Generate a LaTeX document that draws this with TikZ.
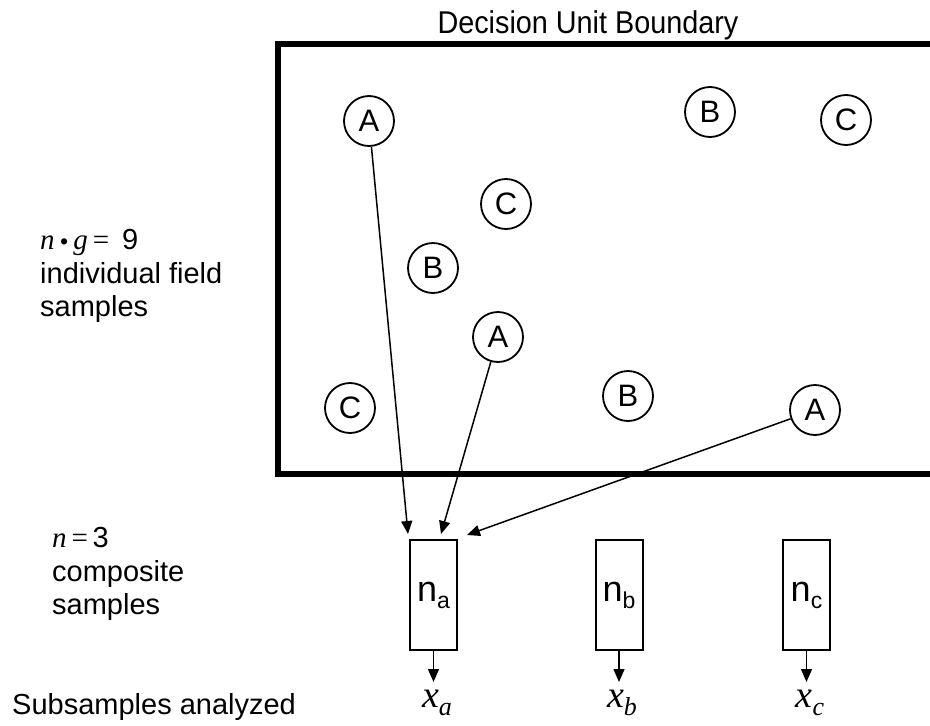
\documentclass[tikz,border=0pt]{standalone}
\usepackage{fontspec}
\setmainfont{Liberation Sans}
\newfontfamily\tms{Liberation Serif}
\usetikzlibrary{arrows.meta}
\begin{document}
\begin{tikzpicture}[x=1pt,y=-1pt,
  smp/.style={circle,draw,line width=1.8pt,minimum size=50pt,inner sep=0pt,font=\fontsize{31}{31}\selectfont},
  comp/.style={rectangle,draw,line width=2pt,minimum width=47pt,minimum height=110pt,inner sep=0pt,font=\fontsize{36}{36}\selectfont},
  lbl/.style={anchor=west,align=left,font=\fontsize{29}{33.5}\selectfont,inner sep=0pt},
  arr/.style={line width=1.5pt,-{Triangle[length=13pt,width=11pt]}},
  xl/.style={font=\fontsize{38}{38}\selectfont\tms\itshape,inner sep=0pt}]
\useasboundingbox (0,0) rectangle (930,726);
\draw[line width=6pt] (940,44) -- (278,44) -- (278,474) -- (940,474);
\node[font=\fontsize{30}{30}\selectfont,inner sep=0pt] (title) at (588,25) {\scalebox{0.96}[1.05]{Decision Unit Boundary}};
% samples
\node[smp] (A1) at (369,121) {A};
\node[smp] (B1) at (710,112) {B};
\node[smp] (C1) at (846,120) {C};
\node[smp] (C2) at (506,204) {C};
\node[smp] (B2) at (433,268) {B};
\node[smp] (A2) at (498,337) {A};
\node[smp] (C3) at (350,408) {C};
\node[smp] (B3) at (628,396) {B};
\node[smp] (A3) at (815,410) {A};
% composites
\node[comp] (na) at (433.5,595) {n\raisebox{-7pt}{\fontsize{23}{23}\selectfont a}};
\node[comp] (nb) at (619,595) {n\raisebox{-7pt}{\fontsize{23}{23}\selectfont b}};
\node[comp] (nc) at (806.5,595) {n\raisebox{-7pt}{\fontsize{23}{23}\selectfont c}};
\coordinate (t1) at (408,534);
\coordinate (t2) at (441,534);
\coordinate (t3) at (467,535);
\draw[arr] (A1) -- (t1);
\draw[arr] (A2) -- (t2);
\draw[arr] (A3) -- (t3);
% analyzed
\node[xl] (xa) at (437,703) {x\raisebox{-8pt}{\fontsize{26}{26}\selectfont a}};
\node[xl] (xb) at (622,703) {x\raisebox{-8pt}{\fontsize{26}{26}\selectfont b}};
\node[xl] (xc) at (810,703) {x\raisebox{-8pt}{\fontsize{26}{26}\selectfont c}};
\draw[arr] (na.south) -- ++(0,31);
\draw[arr] (nb.south) -- ++(0,31);
\draw[arr] (nc.south) -- ++(0,31);
% left labels
\node[lbl] (L1) at (40,276) {{\tms\itshape n}\,{\tms\fontsize{26}{26}\selectfont\raisebox{-1pt}{•}}\,{\tms\itshape g}\,{\tms =}\, 9\\individual field\\samples};
\node[lbl] (L2) at (52,574) {{\tms\itshape n}\,{\tms =}\,3\\composite\\samples};
\node[lbl] (L3) at (12,707) {Subsamples analyzed};
\end{tikzpicture}
\end{document}
